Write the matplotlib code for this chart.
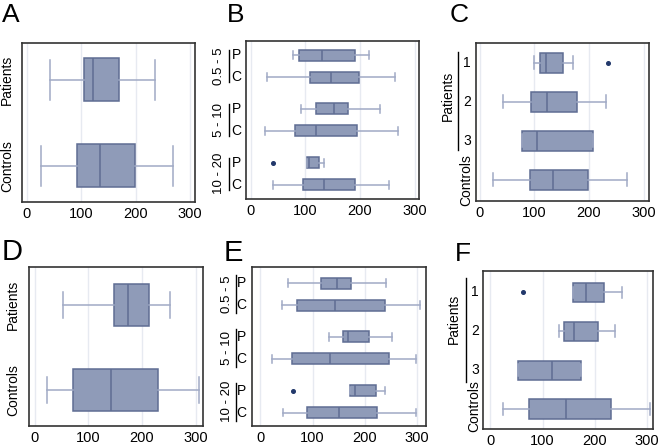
import matplotlib
matplotlib.use("Agg")
import matplotlib.pyplot as plt
import matplotlib.transforms as mtransforms

plt.rcParams['font.family'] = ['Liberation Sans', 'DejaVu Sans']

# ---- data ----
# panel A: Patients vs Controls
a_labels = ["Patients", "Controls"]
a_low = [43, 26]
a_q1 = [105, 93]
a_med = [121, 135]
a_q3 = [170, 198]
a_high = [235, 269]
a_fliers = [[], []]

# panel B: by range (0.5-5, 5-10, 10-20), P / C
b_groups = ["0.5 - 5", "5 - 10", "10 - 20"]
b_labels = ["P", "C", "P", "C", "P", "C"]
b_low = [78, 30, 92, 25, 103, 41]
b_q1 = [88, 109, 119, 81, 103, 96]
b_med = [130, 146, 153, 119, 107, 134]
b_q3 = [190, 198, 178, 194, 124, 190]
b_high = [217, 264, 236, 270, 134, 253]
b_fliers = [[], [], [], [], [41], []]

# panel C: Patients 1/2/3 and Controls
c_labels = ["1", "2", "3", "Controls"]
c_low = [99, 43, 78, 24]
c_q1 = [110, 93, 78, 92]
c_med = [121, 123, 104, 134]
c_q3 = [152, 178, 207, 198]
c_high = [171, 232, 207, 270]
c_fliers = [[235], [], [], []]

# panel D
d_labels = ["Patients", "Controls"]
d_low = [52, 22]
d_q1 = [148, 72]
d_med = [173, 143]
d_q3 = [214, 230]
d_high = [253, 306]
d_fliers = [[], []]

# panel E
e_groups = ["0.5 - 5", "5 - 10", "10 - 20"]
e_labels = ["P", "C", "P", "C", "P", "C"]
e_low = [52, 42, 132, 22, 172, 44]
e_q1 = [116, 71, 158, 60, 172, 89]
e_med = [146, 143, 167, 133, 181, 151]
e_q3 = [173, 239, 208, 246, 221, 224]
e_high = [240, 306, 252, 297, 239, 298]
e_fliers = [[], [], [], [], [62], []]

# panel F
f_labels = ["1", "2", "3", "Controls"]
f_low = [158, 132, 53, 24]
f_q1 = [159, 140, 53, 73]
f_med = [183, 160, 118, 144]
f_q3 = [218, 205, 173, 230]
f_high = [252, 238, 173, 305]
f_fliers = [[62], [], [], []]

xticks = [0, 100, 200, 300]

# ---- style ----
FILL = '#8f9bb8'
EDGE = '#5f6d93'
WHISK = '#a0aac5'
DOT = '#22386b'
GRID = '#e7eaf1'

W, H = 661, 448
fig = plt.figure(figsize=(W / 100, H / 100), dpi=100)


def make_axes(left, top, right, bottom):
    return fig.add_axes([left / W, 1 - bottom / H, (right - left) / W, (bottom - top) / H])


def offset_tr(ax, dx):
    return ax.get_yaxis_transform() + mtransforms.ScaledTranslation(dx / 100, 0, fig.dpi_scale_trans)


def draw_boxes(ax, pos, low, q1, med, q3, high, fliers, xlim, ylim, capw):
    stats = []
    for i in range(len(pos)):
        stats.append(dict(whislo=low[i], q1=q1[i], med=med[i], q3=q3[i],
                          whishi=high[i], fliers=fliers[i]))
    ax.bxp(stats, positions=pos, widths=0.5, capwidths=capw,
           orientation='horizontal', patch_artist=True, manage_ticks=False,
           boxprops=dict(facecolor=FILL, edgecolor=EDGE, linewidth=1.1),
           medianprops=dict(color=EDGE, linewidth=1.1),
           whiskerprops=dict(color=WHISK, linewidth=1.1),
           capprops=dict(color=WHISK, linewidth=1.1),
           flierprops=dict(marker='o', markersize=2.6, markerfacecolor=DOT,
                           markeredgecolor=DOT))
    for xv in xticks:
        ax.axvline(xv, color=GRID, lw=1, zorder=0)
    ax.set_xlim(*xlim)
    ax.set_ylim(*ylim)
    ax.set_xticks(xticks)
    ax.set_yticks([])
    ax.tick_params(axis='x', length=0, pad=3.5, labelsize=10.5)
    for sp in ax.spines.values():
        sp.set_color('#333333')
        sp.set_linewidth(1.2)


def label_two(ax, pos, labels, dx):
    for p, s in zip(pos, labels):
        ax.text(0, p, s, transform=offset_tr(ax, dx), rotation=90,
                ha='center', va='center', fontsize=10, clip_on=False)


def label_groups(ax, pos, labels, groups, dx_letter, dx_bar, dx_group, half):
    for p, s in zip(pos, labels):
        ax.text(0, p, s, transform=offset_tr(ax, dx_letter), ha='right',
                va='center', fontsize=10, clip_on=False)
    for g, name in enumerate(groups):
        mid = (pos[2 * g] + pos[2 * g + 1]) / 2
        ax.plot([0, 0], [mid - half, mid + half], transform=offset_tr(ax, dx_bar),
                color='black', lw=1, clip_on=False)
        ax.text(0, mid, name, transform=offset_tr(ax, dx_group), rotation=90,
                ha='center', va='center', fontsize=9.5, clip_on=False)


def label_patients(ax, pos, labels, dx_num, dx_bar, dx_pat, bar, pat_y, ctrl_dx, ctrl_y):
    for p, s in zip(pos[:3], labels[:3]):
        ax.text(0, p, s, transform=offset_tr(ax, dx_num), ha='center',
                va='center', fontsize=10, clip_on=False)
    ax.plot([0, 0], bar, transform=offset_tr(ax, dx_bar), color='black',
            lw=1, clip_on=False)
    ax.text(0, pat_y, "Patients", transform=offset_tr(ax, dx_pat), rotation=90,
            ha='center', va='center', fontsize=10, clip_on=False)
    ax.text(0, ctrl_y, labels[3], transform=offset_tr(ax, ctrl_dx), rotation=90,
            ha='center', va='center', fontsize=10, clip_on=False)


pos2 = [0, 1]
pos6 = [0, 1, 2.45, 3.45, 4.9, 5.9]
pos4 = [0, 1, 2, 3]

# A
ax = make_axes(22, 43, 195, 202)
draw_boxes(ax, pos2, a_low, a_q1, a_med, a_q3, a_high, a_fliers,
           (-9, 309), (1.42, -0.43), 0.47)
label_two(ax, pos2, a_labels, -15)

# B
ax = make_axes(246, 41, 419, 199)
draw_boxes(ax, pos6, b_low, b_q1, b_med, b_q3, b_high, b_fliers,
           (-9, 308), (6.55, -0.64), 0.38)
label_groups(ax, pos6, b_labels, b_groups, -5, -17, -27, 0.72)

# C
ax = make_axes(476, 43, 649, 201)
draw_boxes(ax, pos4, c_low, c_q1, c_med, c_q3, c_high, c_fliers,
           (-7, 310), (3.54, -0.51), 0.33)
label_patients(ax, pos4, c_labels, -9, -18, -28, [-0.28, 2.23], 0.85, -10, 3.0)

# D
ax = make_axes(29, 267, 203, 426)
draw_boxes(ax, pos2, d_low, d_q1, d_med, d_q3, d_high, d_fliers,
           (-11, 314), (1.424, -0.447), 0.3)
label_two(ax, pos2, d_labels, -16)

# E
ax = make_axes(252, 267, 426, 426)
draw_boxes(ax, pos6, e_low, e_q1, e_med, e_q3, e_high, e_fliers,
           (-16, 317), (6.5, -0.73), 0.33)
label_groups(ax, pos6, e_labels, e_groups, -6, -16, -25, 0.85)

# F
ax = make_axes(483, 271, 653, 429)
draw_boxes(ax, pos4, f_low, f_q1, f_med, f_q3, f_high, f_fliers,
           (-14, 311), (3.51, -0.55), 0.3)
label_patients(ax, pos4, f_labels, -8, -17, -29, [-0.38, 2.31], 0.67, -9, 2.92)

# panel letters
for s, x, y, fs in [("A", 2, 3, 19), ("B", 227, 3, 19), ("C", 450, 3, 19),
                    ("D", 2, 238, 21), ("E", 224, 239, 21), ("F", 455, 242, 19)]:
    fig.text(x / W, 1 - y / H, s, ha='left', va='top', fontsize=fs)

fig.savefig("out.png", dpi=100)
